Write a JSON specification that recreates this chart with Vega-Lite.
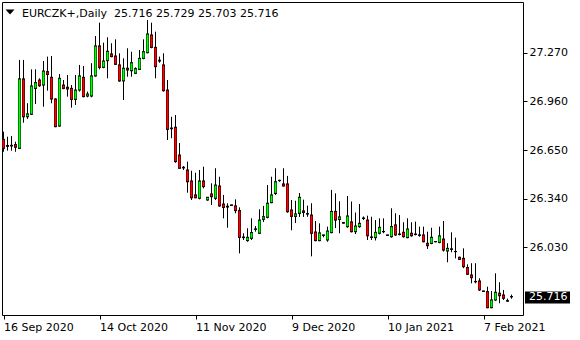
{
  "$schema": "https://vega.github.io/schema/vega-lite/v6.json",
  "width": 521,
  "height": 313,
  "autosize": {"type": "none"},
  "padding": {"left": 2, "top": 2, "right": 57, "bottom": 25},
  "background": "white",
  "config": {
    "view": {"stroke": "black", "strokeWidth": 1},
    "axis": {"labelFont": "DejaVu Sans", "labelFontSize": 11, "labelColor": "black", "tickColor": "black", "domain": false, "grid": false, "title": null}
  },
  "datasets": {
    "bars": [
    {"i":0,"o":26.718,"h":26.767,"l":26.639,"c":26.661},
    {"i":1,"o":26.679,"h":26.735,"l":26.646,"c":26.674},
    {"i":2,"o":26.680,"h":26.739,"l":26.646,"c":26.676},
    {"i":3,"o":26.684,"h":26.703,"l":26.639,"c":26.668},
    {"i":4,"o":26.661,"h":27.224,"l":26.657,"c":27.103},
    {"i":5,"o":27.103,"h":27.224,"l":26.824,"c":26.862},
    {"i":6,"o":26.862,"h":26.948,"l":26.848,"c":26.880},
    {"i":7,"o":26.878,"h":27.164,"l":26.873,"c":27.058},
    {"i":8,"o":27.043,"h":27.164,"l":26.943,"c":27.079},
    {"i":9,"o":27.096,"h":27.107,"l":27.053,"c":27.060},
    {"i":10,"o":27.064,"h":27.217,"l":26.926,"c":27.153},
    {"i":11,"o":27.149,"h":27.245,"l":27.028,"c":27.132},
    {"i":12,"o":27.113,"h":27.249,"l":26.948,"c":26.975},
    {"i":13,"o":26.975,"h":26.980,"l":26.795,"c":26.799},
    {"i":14,"o":26.803,"h":27.134,"l":26.799,"c":27.107},
    {"i":15,"o":27.064,"h":27.096,"l":27.037,"c":27.043},
    {"i":16,"o":27.050,"h":27.128,"l":26.990,"c":27.039},
    {"i":17,"o":27.043,"h":27.064,"l":26.920,"c":26.973},
    {"i":18,"o":26.973,"h":27.128,"l":26.937,"c":27.032},
    {"i":19,"o":27.032,"h":27.192,"l":27.022,"c":27.122},
    {"i":20,"o":27.113,"h":27.185,"l":26.986,"c":26.990},
    {"i":21,"o":26.994,"h":27.022,"l":26.986,"c":27.007},
    {"i":22,"o":26.994,"h":27.203,"l":26.986,"c":27.122},
    {"i":23,"o":27.122,"h":27.376,"l":27.117,"c":27.313},
    {"i":24,"o":27.313,"h":27.461,"l":27.164,"c":27.177},
    {"i":25,"o":27.177,"h":27.334,"l":27.171,"c":27.217},
    {"i":26,"o":27.219,"h":27.368,"l":27.107,"c":27.279},
    {"i":27,"o":27.262,"h":27.330,"l":27.241,"c":27.245},
    {"i":28,"o":27.249,"h":27.355,"l":27.192,"c":27.196},
    {"i":29,"o":27.192,"h":27.266,"l":27.085,"c":27.090},
    {"i":30,"o":27.090,"h":27.234,"l":26.969,"c":27.171},
    {"i":31,"o":27.171,"h":27.298,"l":27.117,"c":27.160},
    {"i":32,"o":27.155,"h":27.276,"l":27.117,"c":27.206},
    {"i":33,"o":27.139,"h":27.177,"l":27.134,"c":27.168},
    {"i":34,"o":27.164,"h":27.287,"l":27.160,"c":27.234},
    {"i":35,"o":27.234,"h":27.355,"l":27.228,"c":27.276},
    {"i":36,"o":27.270,"h":27.478,"l":27.266,"c":27.389},
    {"i":37,"o":27.383,"h":27.461,"l":27.298,"c":27.304},
    {"i":38,"o":27.304,"h":27.404,"l":27.107,"c":27.181},
    {"i":39,"o":27.222,"h":27.245,"l":27.206,"c":27.217},
    {"i":40,"o":27.192,"h":27.266,"l":27.022,"c":27.028},
    {"i":41,"o":27.032,"h":27.096,"l":26.714,"c":26.782},
    {"i":42,"o":26.790,"h":26.862,"l":26.725,"c":26.786},
    {"i":43,"o":26.795,"h":26.873,"l":26.569,"c":26.576},
    {"i":44,"o":26.618,"h":26.695,"l":26.534,"c":26.534},
    {"i":45,"o":26.540,"h":26.548,"l":26.523,"c":26.536},
    {"i":46,"o":26.523,"h":26.576,"l":26.378,"c":26.448},
    {"i":47,"o":26.453,"h":26.518,"l":26.332,"c":26.346},
    {"i":48,"o":26.364,"h":26.506,"l":26.343,"c":26.346},
    {"i":49,"o":26.343,"h":26.523,"l":26.336,"c":26.453},
    {"i":50,"o":26.453,"h":26.544,"l":26.406,"c":26.417},
    {"i":51,"o":26.332,"h":26.351,"l":26.327,"c":26.349},
    {"i":52,"o":26.370,"h":26.438,"l":26.300,"c":26.353},
    {"i":53,"o":26.343,"h":26.534,"l":26.332,"c":26.427},
    {"i":54,"o":26.421,"h":26.480,"l":26.289,"c":26.294},
    {"i":55,"o":26.306,"h":26.364,"l":26.215,"c":26.285},
    {"i":56,"o":26.292,"h":26.311,"l":26.155,"c":26.287},
    {"i":57,"o":26.300,"h":26.302,"l":26.296,"c":26.298},
    {"i":58,"o":26.294,"h":26.336,"l":26.247,"c":26.264},
    {"i":59,"o":26.264,"h":26.285,"l":25.992,"c":26.094},
    {"i":60,"o":26.096,"h":26.120,"l":26.077,"c":26.092},
    {"i":61,"o":26.073,"h":26.152,"l":26.066,"c":26.094},
    {"i":62,"o":26.088,"h":26.215,"l":26.077,"c":26.124},
    {"i":63,"o":26.147,"h":26.166,"l":26.130,"c":26.145},
    {"i":64,"o":26.120,"h":26.273,"l":26.115,"c":26.204},
    {"i":65,"o":26.209,"h":26.294,"l":26.192,"c":26.225},
    {"i":66,"o":26.222,"h":26.427,"l":26.215,"c":26.311},
    {"i":67,"o":26.315,"h":26.480,"l":26.311,"c":26.364},
    {"i":68,"o":26.374,"h":26.534,"l":26.364,"c":26.448},
    {"i":69,"o":26.457,"h":26.461,"l":26.448,"c":26.455},
    {"i":70,"o":26.434,"h":26.534,"l":26.417,"c":26.421},
    {"i":71,"o":26.434,"h":26.485,"l":26.251,"c":26.257},
    {"i":72,"o":26.268,"h":26.332,"l":26.139,"c":26.228},
    {"i":73,"o":26.228,"h":26.327,"l":26.185,"c":26.243},
    {"i":74,"o":26.247,"h":26.376,"l":26.224,"c":26.349},
    {"i":75,"o":26.262,"h":26.334,"l":26.224,"c":26.253},
    {"i":76,"o":26.244,"h":26.296,"l":26.225,"c":26.243},
    {"i":77,"o":26.236,"h":26.311,"l":25.973,"c":26.120},
    {"i":78,"o":26.128,"h":26.198,"l":26.069,"c":26.073},
    {"i":79,"o":26.073,"h":26.183,"l":26.069,"c":26.122},
    {"i":80,"o":26.109,"h":26.109,"l":26.094,"c":26.107},
    {"i":81,"o":26.077,"h":26.162,"l":26.066,"c":26.134},
    {"i":82,"o":26.124,"h":26.396,"l":26.120,"c":26.259},
    {"i":83,"o":26.259,"h":26.374,"l":26.153,"c":26.204},
    {"i":84,"o":26.208,"h":26.324,"l":26.120,"c":26.224},
    {"i":85,"o":26.187,"h":26.192,"l":26.181,"c":26.185},
    {"i":86,"o":26.162,"h":26.357,"l":26.155,"c":26.230},
    {"i":87,"o":26.192,"h":26.322,"l":26.125,"c":26.130},
    {"i":88,"o":26.130,"h":26.252,"l":26.115,"c":26.166},
    {"i":89,"o":26.162,"h":26.306,"l":26.155,"c":26.183},
    {"i":90,"o":26.217,"h":26.227,"l":26.204,"c":26.214},
    {"i":91,"o":26.204,"h":26.232,"l":26.077,"c":26.104},
    {"i":92,"o":26.094,"h":26.225,"l":26.077,"c":26.096},
    {"i":93,"o":26.092,"h":26.204,"l":26.074,"c":26.126},
    {"i":94,"o":26.120,"h":26.215,"l":26.113,"c":26.158},
    {"i":95,"o":26.131,"h":26.215,"l":26.120,"c":26.130},
    {"i":96,"o":26.109,"h":26.110,"l":26.106,"c":26.107},
    {"i":97,"o":26.098,"h":26.279,"l":26.092,"c":26.162},
    {"i":98,"o":26.173,"h":26.247,"l":26.104,"c":26.109},
    {"i":99,"o":26.115,"h":26.236,"l":26.106,"c":26.112},
    {"i":100,"o":26.126,"h":26.190,"l":26.092,"c":26.098},
    {"i":101,"o":26.092,"h":26.215,"l":26.088,"c":26.147},
    {"i":102,"o":26.120,"h":26.190,"l":26.098,"c":26.104},
    {"i":103,"o":26.115,"h":26.194,"l":26.106,"c":26.112},
    {"i":104,"o":26.109,"h":26.162,"l":26.098,"c":26.107},
    {"i":105,"o":26.109,"h":26.162,"l":26.062,"c":26.066},
    {"i":106,"o":26.056,"h":26.130,"l":26.020,"c":26.041},
    {"i":107,"o":26.056,"h":26.155,"l":26.050,"c":26.094},
    {"i":108,"o":26.067,"h":26.071,"l":26.062,"c":26.066},
    {"i":109,"o":26.062,"h":26.162,"l":26.056,"c":26.103},
    {"i":110,"o":26.083,"h":26.198,"l":26.003,"c":26.013},
    {"i":111,"o":26.007,"h":26.056,"l":25.935,"c":26.024},
    {"i":112,"o":26.020,"h":26.126,"l":25.999,"c":26.018},
    {"i":113,"o":26.004,"h":26.092,"l":25.960,"c":26.003},
    {"i":114,"o":25.967,"h":25.971,"l":25.950,"c":25.954},
    {"i":115,"o":25.960,"h":26.024,"l":25.897,"c":25.907},
    {"i":116,"o":25.901,"h":25.922,"l":25.854,"c":25.859},
    {"i":117,"o":25.854,"h":25.929,"l":25.801,"c":25.837},
    {"i":118,"o":25.813,"h":25.929,"l":25.801,"c":25.811},
    {"i":119,"o":25.816,"h":25.833,"l":25.752,"c":25.759},
    {"i":120,"o":25.752,"h":25.754,"l":25.749,"c":25.750},
    {"i":121,"o":25.748,"h":25.780,"l":25.642,"c":25.646},
    {"i":122,"o":25.646,"h":25.752,"l":25.642,"c":25.695},
    {"i":123,"o":25.695,"h":25.865,"l":25.688,"c":25.744},
    {"i":124,"o":25.738,"h":25.808,"l":25.674,"c":25.722},
    {"i":125,"o":25.727,"h":25.759,"l":25.695,"c":25.706},
    {"i":126,"o":25.690,"h":25.704,"l":25.685,"c":25.688},
    {"i":127,"o":25.716,"h":25.729,"l":25.703,"c":25.716}
    ],
    "info": [{"label": "EURCZK+,Daily\u00a0\u00a025.716 25.729 25.703 25.716", "price": 25.716, "tx": 4.625, "ty": 27.4993, "mx": 1.625, "my": 27.5293, "bx": 130.375, "bx2": 141.625, "by": 25.749, "by2": 25.6726}]
  },
  "layer": [
    {
      "data": {"name": "bars"},
      "mark": {"type": "rule", "color": "black", "strokeWidth": 1},
      "encoding": {
        "x": {"field": "i", "type": "quantitative",
          "scale": {"domain": [-0.375, 129.875], "nice": false, "zero": false, "padding": 0},
          "axis": {"values": [0, 24, 48, 72, 96, 120], "tickSize": 4, "labelPadding": 2, "labelAlign": "left", "labelBaseline": "top", "labelOverlap": false, "labelBound": false, "labelFlush": false,
            "labelExpr": "datum.value == 0 ? '16 Sep 2020' : datum.value == 24 ? '14 Oct 2020' : datum.value == 48 ? '11 Nov 2020' : datum.value == 72 ? '9 Dec 2020' : datum.value == 96 ? '10 Jan 2021' : '7 Feb 2021'"}},
        "y": {"field": "l", "type": "quantitative",
          "scale": {"domain": [25.5993, 27.5929], "nice": false, "zero": false, "padding": 0},
          "axis": {"orient": "right", "values": [26.03, 26.34, 26.65, 26.96, 27.27], "format": ".3f", "tickSize": 4, "labelPadding": 2, "labelBaseline": "middle"}},
        "y2": {"field": "h"}
      }
    },
    {
      "data": {"name": "bars"},
      "mark": {"type": "bar", "width": 3, "color": "black", "opacity": 1},
      "encoding": {
        "x": {"field": "i", "type": "quantitative"},
        "y": {"field": "o", "type": "quantitative"},
        "y2": {"field": "c"}
      }
    },
    {
      "data": {"name": "bars"},
      "mark": {"type": "bar", "width": 2, "opacity": 1},
      "encoding": {
        "x": {"field": "i", "type": "quantitative"},
        "y": {"field": "o", "type": "quantitative"},
        "y2": {"field": "c"},
        "color": {"condition": {"test": "datum.c >= datum.o", "value": "#00ff00"}, "value": "#ff0000"}
      }
    },
    {
      "data": {"name": "bars"},
      "mark": {"type": "tick", "orient": "horizontal", "size": 3, "thickness": 1, "color": "black", "opacity": 1},
      "encoding": {"x": {"field": "i", "type": "quantitative"}, "y": {"field": "o", "type": "quantitative"}}
    },
    {
      "data": {"name": "bars"},
      "mark": {"type": "tick", "orient": "horizontal", "size": 3, "thickness": 1, "color": "black", "opacity": 1},
      "encoding": {"x": {"field": "i", "type": "quantitative"}, "y": {"field": "c", "type": "quantitative"}}
    },
    {
      "data": {"name": "info"},
      "mark": {"type": "point", "shape": "M-1,-0.55L1,-0.55L0,0.55Z", "size": 81, "filled": true, "color": "black", "opacity": 1, "clip": false},
      "encoding": {"x": {"field": "mx", "type": "quantitative"}, "y": {"field": "my", "type": "quantitative"}}
    },
    {
      "data": {"name": "info"},
      "mark": {"type": "text", "align": "left", "baseline": "alphabetic", "font": "DejaVu Sans", "fontSize": 11, "color": "black", "clip": false},
      "encoding": {"x": {"field": "tx", "type": "quantitative"}, "y": {"field": "ty", "type": "quantitative"}, "text": {"field": "label"}}
    },
    {
      "data": {"name": "info"},
      "mark": {"type": "rect", "color": "black", "opacity": 1, "clip": false},
      "encoding": {"x": {"field": "bx", "type": "quantitative"}, "x2": {"field": "bx2"}, "y": {"field": "by", "type": "quantitative"}, "y2": {"field": "by2"}}
    },
    {
      "data": {"name": "info"},
      "mark": {"type": "text", "align": "left", "baseline": "middle", "dx": 4, "font": "DejaVu Sans", "fontSize": 11, "color": "white", "clip": false},
      "encoding": {"x": {"field": "bx", "type": "quantitative"}, "y": {"field": "price", "type": "quantitative"}, "text": {"field": "price", "type": "quantitative", "format": ".3f"}}
    }
  ]
}
